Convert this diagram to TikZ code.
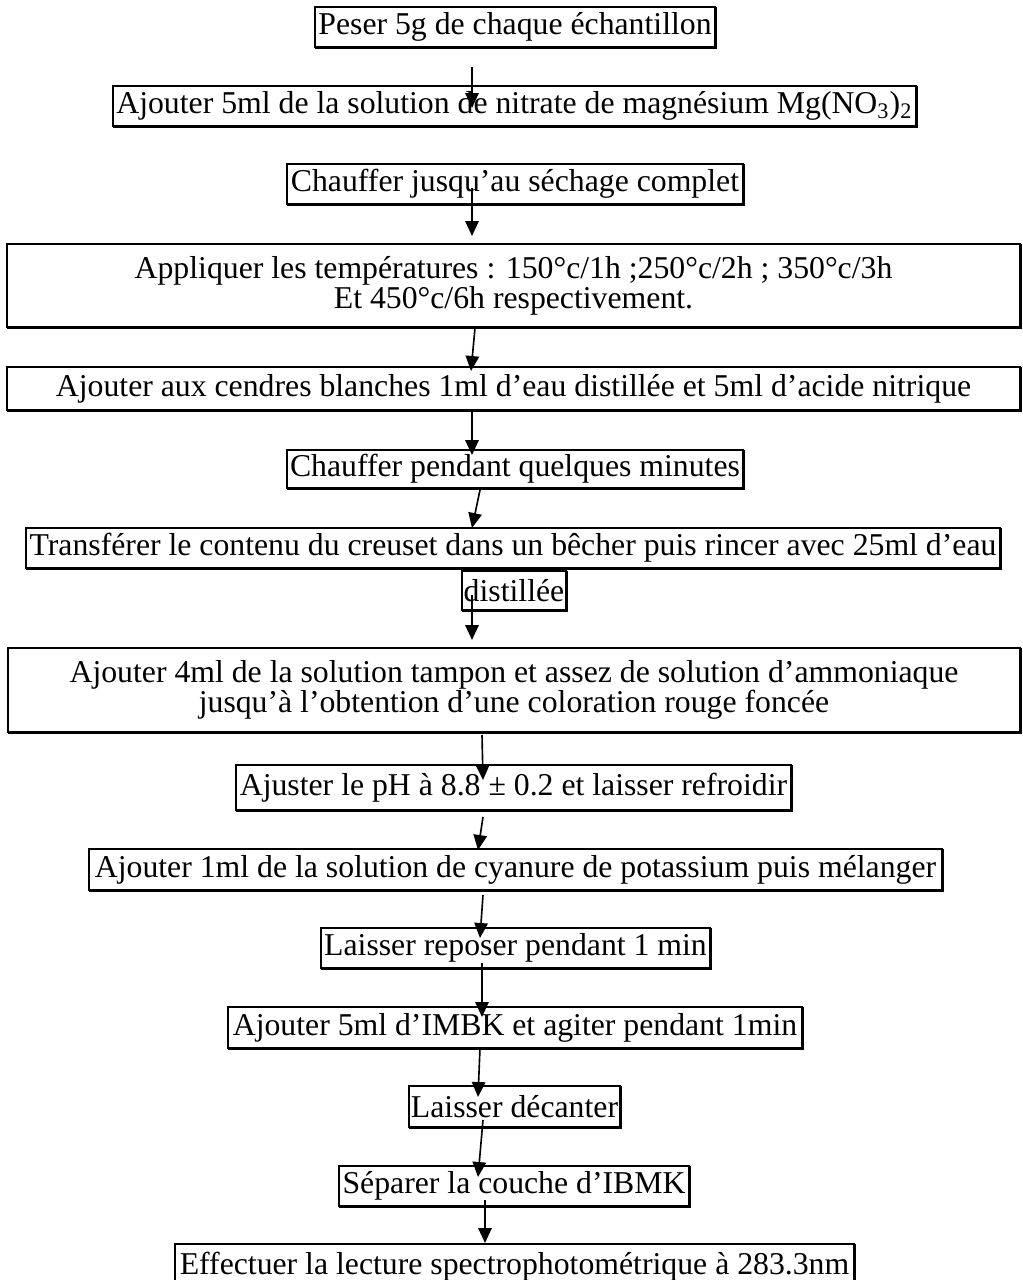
\documentclass[tikz,border=0pt]{standalone}
\usepackage{fontspec}
\setmainfont{Liberation Serif}
\usetikzlibrary{arrows.meta,shadows}

\tikzset{
  box/.style={draw, line width=0.8pt, fill=white, inner sep=0pt, align=center,
    font=\fontsize{12.7}{12}\selectfont,
    copy shadow={shadow xshift=0.4pt, shadow yshift=-0.4pt, line width=0.8pt}},
  flow/.style={line width=0.65pt, -{Triangle[length=6pt,width=5.4pt]}}
}

\begin{document}
\begin{tikzpicture}[x=0.4pt,y=-0.4pt]
\useasboundingbox (0,0) rectangle (1022,1280);
\clip (0,0) rectangle (1022,1280);

\node[box, minimum width=160pt, minimum height=16pt] (peser) at (515,27) {Peser 5g de chaque échantillon};
\node[box, minimum width=321.2pt, minimum height=16pt] (nitrate) at (514.5,106) {Ajouter 5ml de la solution de nitrate de magnésium Mg(NO\textsubscript{3})\textsubscript{2}};
\node[box, minimum width=182.4pt, minimum height=16pt] (sechage) at (515,184) {Chauffer jusqu’au séchage complet};
\node[box, minimum width=405.2pt, minimum height=33.2pt] (temp) at (513.5,285.5) {Appliquer les températures : 150°c/1h ;250°c/2h ; 350°c/3h\\Et 450°c/6h respectivement.};
\node[box, minimum width=405.2pt, minimum height=17.2pt] (cendres) at (513.5,388.5) {Ajouter aux cendres blanches 1ml d’eau distillée et 5ml d’acide nitrique};
\node[box, minimum width=182.4pt, minimum height=15.2pt] (chauffe) at (515,469) {Chauffer pendant quelques minutes};
\node[box, minimum width=389.6pt, minimum height=16pt] (transfert) at (513,548) {Transférer le contenu du creuset dans un bêcher puis rincer avec 25ml d’eau};
\node[box, minimum width=41.6pt, minimum height=15.6pt] (distillee) at (514,590.5) {distillée};
\node[box, minimum width=404.8pt, minimum height=33.6pt] (tampon) at (514,690) {Ajouter 4ml de la solution tampon et assez de solution d’ammoniaque\\jusqu’à l’obtention d’une coloration rouge foncée};
\node[box, minimum width=222pt, minimum height=18pt] (ph) at (513.5,787.5) {Ajuster le pH à 8.8 ± 0.2 et laisser refroidir};
\node[box, minimum width=341.2pt, minimum height=16.4pt] (cyanure) at (515.5,869.5) {Ajouter 1ml de la solution de cyanure de potassium puis mélanger};
\node[box, minimum width=155.6pt, minimum height=16pt] (repos) at (515.5,948) {Laisser reposer pendant 1 min};
\node[box, minimum width=229.6pt, minimum height=16.4pt] (imbk) at (515,1027.5) {Ajouter 5ml d’IMBK et agiter pendant 1min};
\node[box, minimum width=84.4pt, minimum height=16.4pt] (decante) at (514.5,1106.5) {Laisser décanter};
\node[box, minimum width=140pt, minimum height=16pt] (separe) at (514,1186) {Séparer la couche d’IBMK};
\node[box, minimum width=271.6pt, minimum height=18.4pt] (lecture) at (514.5,1267) {Effectuer la lecture spectrophotométrique à 283.3nm};

\coordinate (a1) at (472,67);   \coordinate (a1e) at (472,108);
\coordinate (a2) at (472,188);  \coordinate (a2e) at (472,236);
\coordinate (a3) at (475,328);  \coordinate (a3e) at (471,371);
\coordinate (a4) at (472,410);  \coordinate (a4e) at (472,455);
\coordinate (a5) at (480,490);  \coordinate (a5e) at (472,528);
\coordinate (a6) at (472,595);  \coordinate (a6e) at (472,640);
\coordinate (a7) at (482,735);  \coordinate (a7e) at (483,780);
\coordinate (a8) at (483,817);  \coordinate (a8e) at (478,850);
\coordinate (a9) at (483,895);  \coordinate (a9e) at (480,938);
\coordinate (a10) at (482,963); \coordinate (a10e) at (482,1017);
\coordinate (a11) at (480,1048); \coordinate (a11e) at (478,1097);
\coordinate (a12) at (483,1120); \coordinate (a12e) at (478,1177);
\coordinate (a13) at (485,1200); \coordinate (a13e) at (485,1243);

\foreach \i in {1,...,13}
  \draw[flow] (a\i) -- (a\i e);
\end{tikzpicture}
\end{document}
